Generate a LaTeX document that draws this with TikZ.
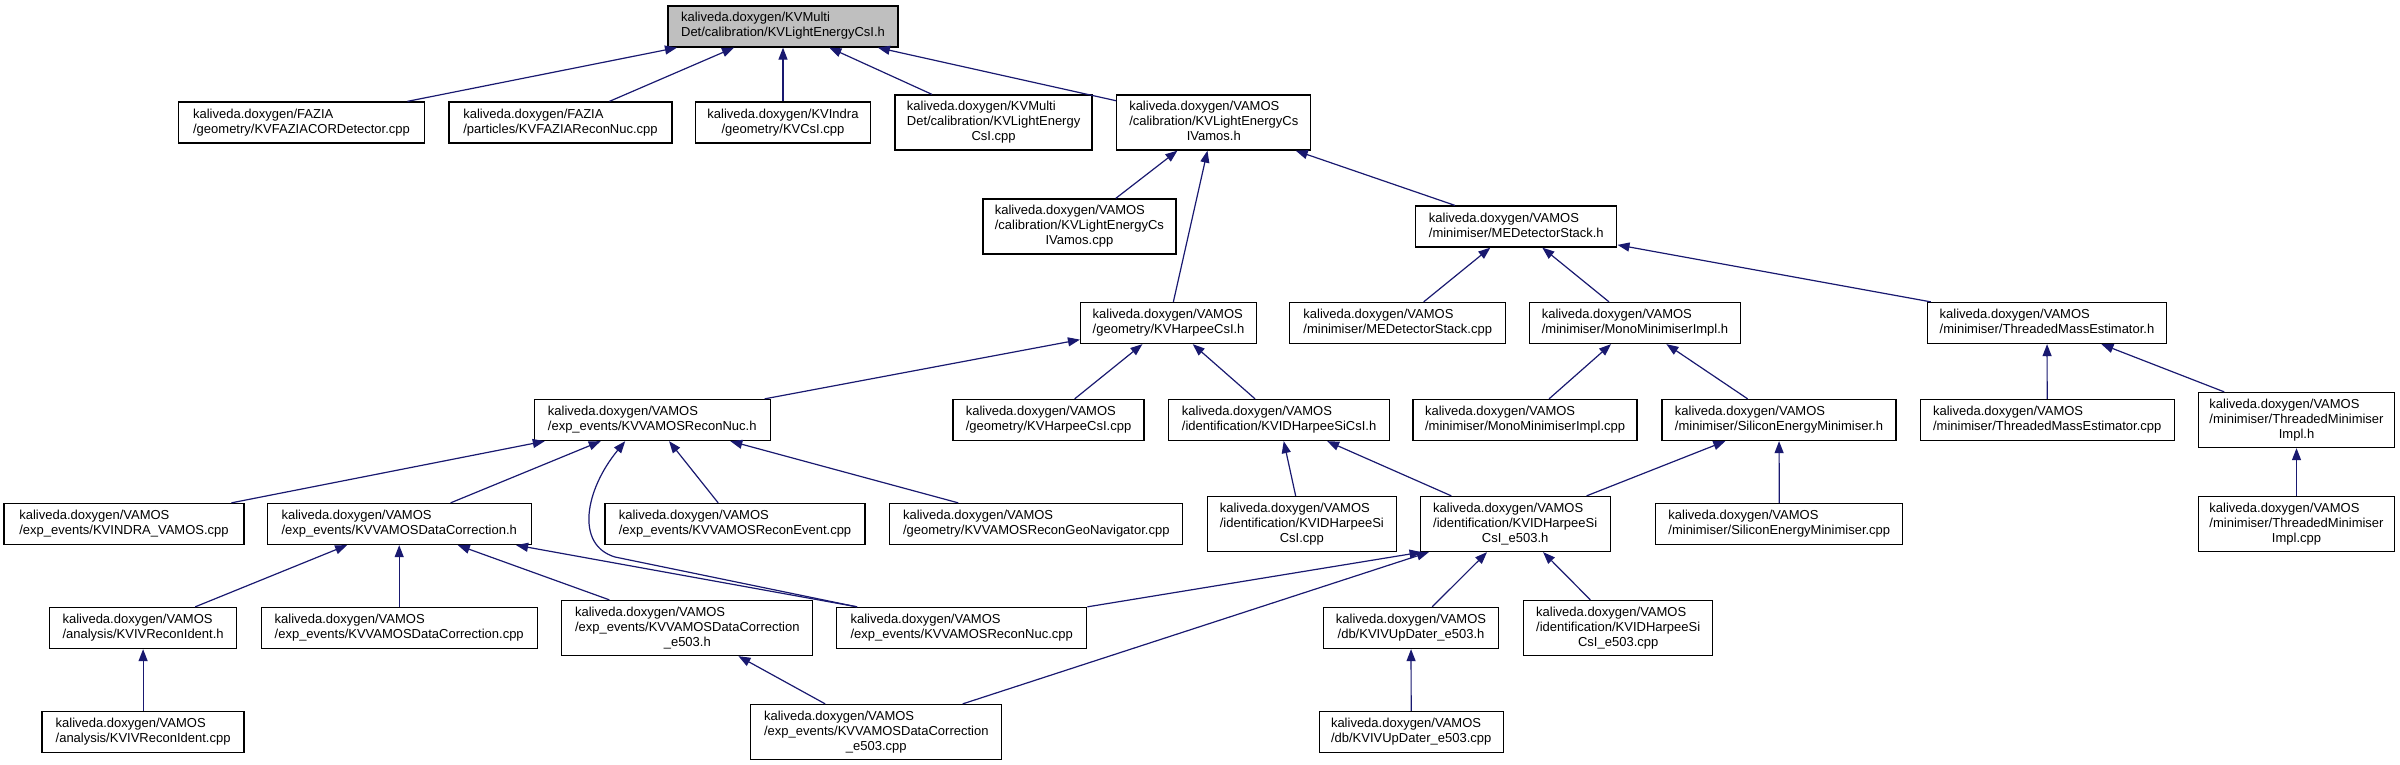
\documentclass[tikz,border=0pt]{standalone}
\usepackage{fontspec}
\setmainfont{Liberation Sans}
\usetikzlibrary{arrows.meta}
\definecolor{edgec}{HTML}{191970}
\definecolor{rootfill}{HTML}{BFBFBF}
\newcommand{\twol}[2]{\begin{tabular}{@{}l@{}}#1\\\multicolumn{1}{@{}c@{}}{#2}\end{tabular}}
\newcommand{\threel}[3]{\begin{tabular}{@{}l@{}}#1\\#2\\\multicolumn{1}{@{}c@{}}{#3}\end{tabular}}
\renewcommand{\arraystretch}{1}
\tikzset{
  box/.style={draw=black, line width=1.3pt, fill=white, rectangle, inner sep=0pt,
    minimum height=41pt, font=\fontsize{13pt}{15pt}\selectfont},
  tall/.style={minimum height=55pt},
  edge/.style={{Triangle[length=12pt,width=9pt]}-, draw=edgec, line width=1.2pt}
}
\begin{document}
\begin{tikzpicture}[x=1pt,y=-1pt]
\useasboundingbox (0,0) rectangle (2400,765);
% row 1
\node[box,fill=rootfill,minimum width=230pt] (root) at (783,26.5) {\twol{kaliveda.doxygen/KVMulti}{Det/calibration/KVLightEnergyCsI.h}};
% row 2
\node[box,minimum width=246pt] (fzcor) at (301.5,122.5) {\twol{kaliveda.doxygen/FAZIA}{/geometry/KVFAZIACORDetector.cpp}};
\node[box,minimum width=223pt] (fzrn) at (560.5,122.5) {\twol{kaliveda.doxygen/FAZIA}{/particles/KVFAZIAReconNuc.cpp}};
\node[box,minimum width=175pt] (indra) at (783,122.5) {\twol{kaliveda.doxygen/KVIndra}{/geometry/KVCsI.cpp}};
\node[box,tall,minimum width=197pt] (kvmcpp) at (993.6,122.5) {\threel{kaliveda.doxygen/KVMulti}{Det/calibration/KVLightEnergy}{CsI.cpp}};
\node[box,tall,minimum width=194pt] (levh) at (1213.8,122.5) {\threel{kaliveda.doxygen/VAMOS}{/calibration/KVLightEnergyCs}{IVamos.h}};
% row 3
\node[box,tall,minimum width=193pt] (levcpp) at (1079.4,226.5) {\threel{kaliveda.doxygen/VAMOS}{/calibration/KVLightEnergyCs}{IVamos.cpp}};
\node[box,minimum width=201pt] (medh) at (1516.3,226.5) {\twol{kaliveda.doxygen/VAMOS}{/minimiser/MEDetectorStack.h}};
% row 4
\node[box,minimum width=176pt] (hh) at (1168.6,323) {\twol{kaliveda.doxygen/VAMOS}{/geometry/KVHarpeeCsI.h}};
\node[box,minimum width=216pt] (medcpp) at (1397.7,323) {\twol{kaliveda.doxygen/VAMOS}{/minimiser/MEDetectorStack.cpp}};
\node[box,minimum width=211pt] (monoh) at (1635,323) {\twol{kaliveda.doxygen/VAMOS}{/minimiser/MonoMinimiserImpl.h}};
\node[box,minimum width=239pt] (tmeh) at (2047,323) {\twol{kaliveda.doxygen/VAMOS}{/minimiser/ThreadedMassEstimator.h}};
% row 5
\node[box,minimum width=236pt] (rnh) at (652.2,420) {\twol{kaliveda.doxygen/VAMOS}{/exp\_events/KVVAMOSReconNuc.h}};
\node[box,minimum width=191pt] (hcpp) at (1048.5,420) {\twol{kaliveda.doxygen/VAMOS}{/geometry/KVHarpeeCsI.cpp}};
\node[box,minimum width=221pt] (sicsih) at (1279.1,420) {\twol{kaliveda.doxygen/VAMOS}{/identification/KVIDHarpeeSiCsI.h}};
\node[box,minimum width=224pt] (monocpp) at (1525.1,420) {\twol{kaliveda.doxygen/VAMOS}{/minimiser/MonoMinimiserImpl.cpp}};
\node[box,minimum width=234pt] (semh) at (1779,420) {\twol{kaliveda.doxygen/VAMOS}{/minimiser/SiliconEnergyMinimiser.h}};
\node[box,minimum width=254pt] (tmecpp) at (2047.2,420) {\twol{kaliveda.doxygen/VAMOS}{/minimiser/ThreadedMassEstimator.cpp}};
\node[box,tall,minimum width=196pt] (tmih) at (2296.5,420) {\threel{kaliveda.doxygen/VAMOS}{/minimiser/ThreadedMinimiser}{Impl.h}};
% row 6
\node[box,minimum width=240pt] (indracpp) at (124,524) {\twol{kaliveda.doxygen/VAMOS}{/exp\_events/KVINDRA\_VAMOS.cpp}};
\node[box,minimum width=264pt] (dch) at (399.2,524) {\twol{kaliveda.doxygen/VAMOS}{/exp\_events/KVVAMOSDataCorrection.h}};
\node[box,minimum width=260pt] (recev) at (735,524) {\twol{kaliveda.doxygen/VAMOS}{/exp\_events/KVVAMOSReconEvent.cpp}};
\node[box,minimum width=293pt] (geo) at (1036.3,524) {\twol{kaliveda.doxygen/VAMOS}{/geometry/KVVAMOSReconGeoNavigator.cpp}};
\node[box,tall,minimum width=189pt] (sicsicpp) at (1301.8,524) {\threel{kaliveda.doxygen/VAMOS}{/identification/KVIDHarpeeSi}{CsI.cpp}};
\node[box,tall,minimum width=190pt] (e503h) at (1515.2,524) {\threel{kaliveda.doxygen/VAMOS}{/identification/KVIDHarpeeSi}{CsI\_e503.h}};
\node[box,minimum width=247pt] (semcpp) at (1779.3,524) {\twol{kaliveda.doxygen/VAMOS}{/minimiser/SiliconEnergyMinimiser.cpp}};
\node[box,tall,minimum width=196pt] (tmicpp) at (2296.5,524) {\threel{kaliveda.doxygen/VAMOS}{/minimiser/ThreadedMinimiser}{Impl.cpp}};
% row 7
\node[box,minimum width=187pt] (kvivh) at (143.1,628) {\twol{kaliveda.doxygen/VAMOS}{/analysis/KVIVReconIdent.h}};
\node[box,minimum width=276pt] (dccpp) at (399.2,628) {\twol{kaliveda.doxygen/VAMOS}{/exp\_events/KVVAMOSDataCorrection.cpp}};
\node[box,tall,minimum width=251pt] (dce503h) at (687.3,628) {\threel{kaliveda.doxygen/VAMOS}{/exp\_events/KVVAMOSDataCorrection}{\_e503.h}};
\node[box,minimum width=250pt] (rnc) at (961.7,628) {\twol{kaliveda.doxygen/VAMOS}{/exp\_events/KVVAMOSReconNuc.cpp}};
\node[box,minimum width=175pt] (updh) at (1411,628) {\twol{kaliveda.doxygen/VAMOS}{/db/KVIVUpDater\_e503.h}};
\node[box,tall,minimum width=189pt] (e503cpp) at (1618.2,628) {\threel{kaliveda.doxygen/VAMOS}{/identification/KVIDHarpeeSi}{CsI\_e503.cpp}};
% row 8
\node[box,minimum width=202pt] (kvivcpp) at (143.1,732) {\twol{kaliveda.doxygen/VAMOS}{/analysis/KVIVReconIdent.cpp}};
\node[box,tall,minimum width=251pt] (dce503cpp) at (876.3,732) {\threel{kaliveda.doxygen/VAMOS}{/exp\_events/KVVAMOSDataCorrection}{\_e503.cpp}};
\node[box,minimum width=184pt] (updcpp) at (1411.2,732) {\twol{kaliveda.doxygen/VAMOS}{/db/KVIVUpDater\_e503.cpp}};
% edges
\draw[edge] (root) -- (fzcor);
\draw[edge] (root) -- (fzrn);
\draw[edge] (root) -- (indra);
\draw[edge] (root) -- (kvmcpp);
\draw[edge] (root) -- (levh);
\draw[edge] (levh) -- (levcpp);
\draw[edge] (levh) -- (hh);
\draw[edge] (levh) -- (medh);
\draw[edge] (medh) -- (medcpp);
\draw[edge] (medh) -- (monoh);
\draw[edge] (medh) -- (tmeh);
\draw[edge] (hh) -- (rnh);
\draw[edge] (hh) -- (hcpp);
\draw[edge] (hh) -- (sicsih);
\draw[edge] (monoh) -- (monocpp);
\draw[edge] (monoh) -- (semh);
\draw[edge] (tmeh) -- (tmecpp);
\draw[edge] (tmeh) -- (tmih);
\draw[edge] (rnh) -- (indracpp);
\draw[edge] (rnh) -- (dch);
\draw[edge] ([xshift=-27pt]rnh.south) .. controls (585,490) and (575,545) .. (615,557) -- ([xshift=21pt]rnc.north west);
\draw[edge] (rnh) -- (recev);
\draw[edge] (rnh) -- (geo);
\draw[edge] (sicsih) -- (sicsicpp);
\draw[edge] (sicsih) -- (e503h);
\draw[edge] (semh) -- (e503h);
\draw[edge] (semh) -- (semcpp);
\draw[edge] (tmih) -- (tmicpp);
\draw[edge] (dch) -- (kvivh);
\draw[edge] (dch) -- (dccpp);
\draw[edge] (dch) -- (dce503h);
\draw[edge] (dch) -- ([xshift=21pt]rnc.north west);
\draw[edge] ([xshift=2pt]e503h.south west) -- (rnc.north east);
\draw[edge] (e503h) -- (dce503cpp);
\draw[edge] (e503h) -- (updh);
\draw[edge] (e503h) -- (e503cpp);
\draw[edge] (kvivh) -- (kvivcpp);
\draw[edge] (dce503h) -- (dce503cpp);
\draw[edge] (updh) -- (updcpp);
\end{tikzpicture}
\end{document}
